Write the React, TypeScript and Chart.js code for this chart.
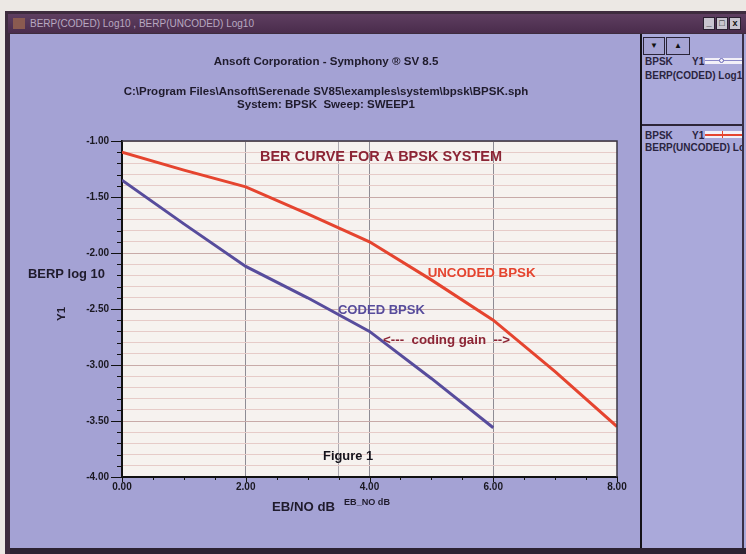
import React, { useEffect, useRef } from "react";
import { Chart, registerables } from "chart.js";

Chart.register(...registerables);

// ---- data ----
const ebNoUncoded = [0, 1, 2, 3, 4, 5, 6, 7, 8];
const berUncodedLog = [-1.1, -1.26, -1.41, -1.65, -1.9, -2.24, -2.6, -3.06, -3.55];
const ebNoCoded = [0, 1, 2, 3, 4, 5, 6];
const berCodedLog = [-1.35, -1.74, -2.12, -2.4, -2.7, -3.12, -3.56];

const xMin = 0;
const xMax = 8;
const yMin = -4;
const yMax = -1;

const titleLines = [
  "Ansoft Corporation - Symphony \u00AE SV 8.5",
  "C:\\Program Files\\Ansoft\\Serenade SV85\\examples\\system\\bpsk\\BPSK.sph",
  "System: BPSK  Sweep: SWEEP1",
];

const FONT = '"Liberation Sans", Arial, sans-serif';
const RED = "#e5442f";
const BLUE = "#574c9c";
const DARKRED = "#8c2535";

const isMult = (v: number, m: number) => Math.abs(v / m - Math.round(v / m)) < 1e-6;

const fitText = (
  ctx: CanvasRenderingContext2D,
  text: string,
  x: number,
  y: number,
  width: number,
  size: number,
  align: CanvasTextAlign = "left"
) => {
  ctx.font = `bold ${size}px ${FONT}`;
  const w = ctx.measureText(text).width;
  const s = size * (width / w);
  ctx.font = `bold ${s.toFixed(2)}px ${FONT}`;
  ctx.textAlign = align;
  ctx.fillText(text, x, y);
};

const chromePlugin = {
  id: "chrome",
  beforeDraw(chart: any) {
    const { ctx, chartArea: a } = chart;
    ctx.save();
    ctx.fillStyle = "#f6f2ef";
    ctx.fillRect(a.left, a.top, a.right - a.left, a.bottom - a.top);
    ctx.restore();
  },
  afterDraw(chart: any) {
    const { ctx, chartArea: a, scales } = chart;
    const x = scales.x;
    const y = scales.y;
    ctx.save();
    // top & right border
    ctx.strokeStyle = "#3a3640";
    ctx.lineWidth = 1.5;
    ctx.beginPath();
    ctx.moveTo(a.left, a.top);
    ctx.lineTo(a.right, a.top);
    ctx.lineTo(a.right, a.bottom);
    ctx.stroke();
    // tick marks
    ctx.strokeStyle = "#111";
    ctx.lineWidth = 1;
    y.ticks.forEach((t: any) => {
      const py = Math.round(y.getPixelForValue(t.value)) + 0.5;
      const len = isMult(t.value, 0.5) ? 11 : 5;
      ctx.beginPath();
      ctx.moveTo(a.left - len, py);
      ctx.lineTo(a.left, py);
      ctx.stroke();
    });
    x.ticks.forEach((t: any) => {
      const px = Math.round(x.getPixelForValue(t.value)) + 0.5;
      const len = isMult(t.value, 2) ? 5 : 3;
      ctx.beginPath();
      ctx.moveTo(px, a.bottom);
      ctx.lineTo(px, a.bottom + len);
      ctx.stroke();
    });

    // titles
    ctx.fillStyle = "#1f1b2c";
    ctx.textBaseline = "middle";
    fitText(ctx, titleLines[0], 326, 62, 225, 11, "center");
    fitText(ctx, titleLines[1], 326, 92, 405, 11, "center");
    fitText(ctx, titleLines[2], 326, 105, 178, 11, "center");

    // axis titles
    fitText(ctx, "BERP log 10", 28, 274, 77, 11, "left");
    ctx.save();
    ctx.translate(62, 314);
    ctx.rotate(-Math.PI / 2);
    fitText(ctx, "Y1", 0, 0, 14, 11, "center");
    ctx.restore();
    fitText(ctx, "EB/NO dB", 272, 507, 63, 11, "left");
    fitText(ctx, "EB_NO dB", 344, 502, 46, 8, "left");

    // annotations in data coordinates
    const at = (vx: number, vy: number) => [x.getPixelForValue(vx), y.getPixelForValue(vy)];
    let p = at(2.23, -1.14);
    ctx.fillStyle = DARKRED;
    fitText(ctx, "BER CURVE FOR A BPSK SYSTEM", p[0], p[1], 242, 12, "left");
    p = at(4.94, -2.18);
    ctx.fillStyle = RED;
    fitText(ctx, "UNCODED BPSK", p[0], p[1], 108, 12, "left");
    p = at(3.49, -2.51);
    ctx.fillStyle = BLUE;
    fitText(ctx, "CODED BPSK", p[0], p[1], 87, 12, "left");
    p = at(4.22, -2.78);
    ctx.fillStyle = DARKRED;
    fitText(ctx, "<---  coding gain  -->", p[0], p[1], 127, 11, "left");
    p = at(3.25, -3.82);
    ctx.fillStyle = "#15131c";
    fitText(ctx, "Figure 1", p[0], p[1], 50, 11, "left");
    ctx.restore();
  },
};

function ChartCanvas() {
  const ref = useRef<HTMLCanvasElement | null>(null);
  useEffect(() => {
    if (!ref.current) return;
    const tickFont = { family: FONT, size: 10, weight: "bold" as const };
    const chart = new Chart(ref.current, {
      type: "line",
      data: {
        datasets: [
          {
            label: "BERP(UNCODED) Log10",
            data: ebNoUncoded.map((v, i) => ({ x: v, y: berUncodedLog[i] })),
            borderColor: RED,
            borderWidth: 3,
            pointRadius: 0,
            fill: false,
            tension: 0,
          },
          {
            label: "BERP(CODED) Log10",
            data: ebNoCoded.map((v, i) => ({ x: v, y: berCodedLog[i] })),
            borderColor: BLUE,
            borderWidth: 3,
            pointRadius: 0,
            fill: false,
            tension: 0,
          },
        ],
      },
      options: {
        animation: false,
        responsive: false,
        events: [],
        layout: { padding: { left: 62, right: 129, top: 141, bottom: 57 } },
        plugins: {
          legend: { display: false },
          title: { display: false },
          tooltip: { enabled: false },
        },
        scales: {
          x: {
            type: "linear",
            min: xMin,
            max: xMax,
            afterFit: (s: any) => {
              s.height = 20;
            },
            ticks: {
              stepSize: 0.5,
              autoSkip: false,
              maxRotation: 0,
              padding: 4,
              color: "#1a1820",
              font: tickFont,
              callback: (v: any) => (isMult(Number(v), 2) ? Number(v).toFixed(2) : ""),
            },
            grid: {
              drawTicks: false,
              lineWidth: 1,
              color: (c: any) => {
                const v = c.tick ? c.tick.value : 0;
                if (v === 2 || v === 4 || v === 6) return "#8e8c94";
                if (v === 3.5) return "#aeaab0";
                return "rgba(0,0,0,0)";
              },
            },
            border: { color: "#111", width: 2 },
          },
          y: {
            type: "linear",
            min: yMin,
            max: yMax,
            afterFit: (s: any) => {
              s.width = 60;
            },
            ticks: {
              stepSize: 0.1,
              autoSkip: false,
              padding: 13,
              color: "#1a1820",
              font: tickFont,
              callback: (v: any) => (isMult(Number(v), 0.5) ? Number(v).toFixed(2) : ""),
            },
            grid: {
              drawTicks: false,
              lineWidth: 1,
              color: (c: any) => {
                const v = c.tick ? c.tick.value : 0;
                return isMult(v, 0.5) ? "#c8aaa8" : "#e6cbc8";
              },
            },
            border: { color: "#111", width: 2 },
          },
        },
      },
      plugins: [chromePlugin],
    });
    return () => chart.destroy();
  }, []);
  return (
    <canvas
      ref={ref}
      width={746}
      height={554}
      style={{ position: "absolute", left: 0, top: 0, width: 746, height: 554 }}
    />
  );
}

const abs = (l: number, t: number, w: number, h: number, extra: React.CSSProperties = {}): React.CSSProperties => ({
  position: "absolute",
  left: l,
  top: t,
  width: w,
  height: h,
  ...extra,
});

const panelText: React.CSSProperties = {
  position: "absolute",
  fontFamily: FONT,
  fontWeight: "bold",
  fontSize: 10,
  color: "#2a2440",
  whiteSpace: "nowrap",
  lineHeight: "11px",
};

export default function App() {
  return (
    <div style={abs(0, 0, 746, 554, { position: "fixed", background: "#ece8e4", overflow: "hidden", fontFamily: FONT })}>
      {/* window frame */}
      <div style={abs(5, 11, 741, 543, { background: "#3e2c3e" })} />
      {/* title bar */}
      <div style={abs(8, 14, 738, 19, { background: "linear-gradient(#5e3e60,#4a2c4c)" })} />
      <div style={abs(13, 18, 12, 11, { background: "#8a5a50" })} />
      <div
        style={{
          position: "absolute",
          left: 30,
          top: 18,
          fontSize: 10,
          color: "#b8a8c0",
          fontFamily: FONT,
          whiteSpace: "nowrap",
          lineHeight: "11px",
        }}
      >
        BERP(CODED) Log10 , BERP(UNCODED) Log10
      </div>
      {[703, 716, 729].map((l, i) => (
        <div
          key={l}
          style={abs(l, 17, 12, 13, {
            background: "#c9c5cf",
            border: "1px solid #2a2030",
            boxSizing: "border-box",
            fontSize: 9,
            fontWeight: "bold",
            textAlign: "center",
            lineHeight: "11px",
            color: "#111",
            fontFamily: FONT,
          })}
        >
          {["_", "\u25A1", "x"][i]}
        </div>
      ))}
      {/* client area */}
      <div style={abs(10, 34, 736, 514, { background: "#a4a2d4" })} />
      {/* right panel */}
      <div style={abs(642, 34, 104, 514, { background: "#aaa9da" })} />
      <div style={abs(640, 34, 2, 514, { background: "#141218" })} />
      <div style={abs(742, 34, 2, 514, { background: "#3a3048" })} />
      <div style={abs(10, 548, 736, 6, { background: "#2c2232" })} />
      {/* panel buttons */}
      <div
        style={abs(643, 37, 22, 18, {
          border: "1px solid #2a2438",
          boxSizing: "border-box",
          background: "#a6a4d4",
          fontSize: 8,
          textAlign: "center",
          lineHeight: "16px",
          color: "#111",
        })}
      >
        {"\u25BC"}
      </div>
      <div
        style={abs(666, 37, 24, 18, {
          border: "1px solid #2a2438",
          boxSizing: "border-box",
          background: "#a6a4d4",
          fontSize: 8,
          textAlign: "center",
          lineHeight: "16px",
          color: "#111",
        })}
      >
        {"\u25B2"}
      </div>
      {/* legend entries */}
      <div style={abs(642, 56, 100, 100, { overflow: "hidden" })}>
        <div style={{ ...panelText, left: 3, top: 0 }}>BPSK</div>
        <div style={{ ...panelText, left: 50, top: 0 }}>Y1</div>
        <div style={abs(63, 2, 37, 6, { background: "#f2f0f8" })} />
        <div style={abs(63, 4, 37, 1, { background: "#8a88c8" })} />
        <div
          style={abs(77, 2, 5, 5, {
            border: "1px solid #6a68b8",
            borderRadius: "50%",
            boxSizing: "border-box",
            background: "#f2f0f8",
          })}
        />
        <div style={{ ...panelText, left: 3, top: 14 }}>BERP(CODED) Log10</div>

        <div style={abs(0, 68, 100, 2, { background: "#2e2638" })} />

        <div style={{ ...panelText, left: 3, top: 74 }}>BPSK</div>
        <div style={{ ...panelText, left: 50, top: 74 }}>Y1</div>
        <div style={abs(63, 75, 37, 7, { background: "#f2f0f8" })} />
        <div style={abs(63, 78, 37, 1.5, { background: RED })} />
        <div style={abs(79.5, 75, 1.5, 7, { background: RED })} />
        <div style={{ ...panelText, left: 3, top: 86 }}>BERP(UNCODED) Log10</div>
      </div>
      <ChartCanvas />
    </div>
  );
}
